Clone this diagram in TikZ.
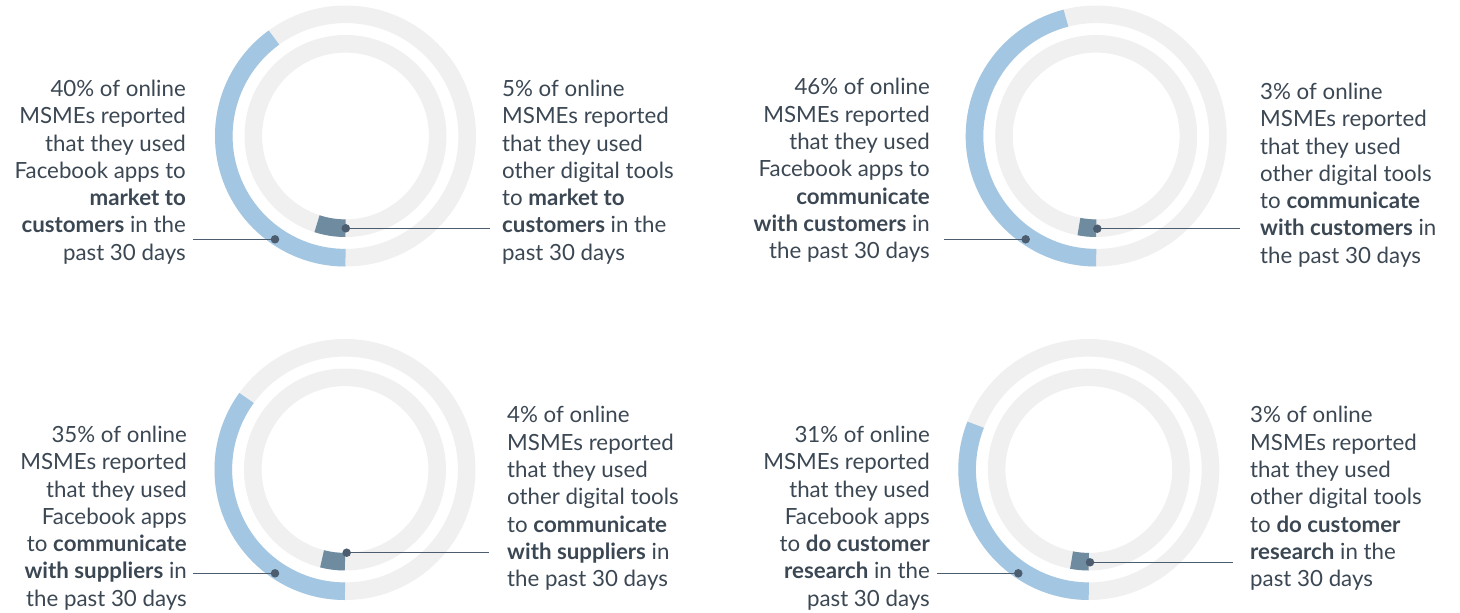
\documentclass[tikz,border=0pt]{standalone}
\usepackage{fontspec}
\setmainfont{Lato}
\definecolor{ringgray}{HTML}{F0F0F0}
\definecolor{fbblue}{HTML}{A3C7E2}
\definecolor{otherdark}{HTML}{6F8BA0}
\definecolor{leader}{HTML}{4B5D6E}
\definecolor{txt}{HTML}{3B4753}
\tikzset{
  ringbg/.style={draw=ringgray, line width=17.6pt},
  fbarc/.style={draw=fbblue, line width=17.6pt},
  otarc/.style={draw=otherdark, line width=17.6pt},
  dotnode/.style={circle, fill=leader, inner sep=0pt, minimum size=8.5pt},
  leaderline/.style={draw=leader, line width=1.4pt},
  lbl/.style={inner sep=0pt, text=txt, font=\fontsize{22.3}{27.3}\selectfont},
  lbll/.style={lbl, align=right, anchor=east},
  lblr/.style={lbl, align=left, anchor=west},
}
\newcommand\mydonut[5]{%
  \coordinate (#1) at (#2,#3);
  \draw[ringbg] (#1) circle[radius=121.7];
  \draw[ringbg] (#1) circle[radius=92.2];
  \draw[fbarc] ([shift={(90:121.7)}]#1) arc[start angle=90, end angle={90+3.6*#4}, radius=121.7];
  \draw[otarc] ([shift={(90:92.2)}]#1) arc[start angle=90, end angle={90+3.6*#5}, radius=92.2];
}
\begin{document}
\begin{tikzpicture}[x=1pt,y=-1pt]
\useasboundingbox (0,0) rectangle (1460,613);

% chart 1
\mydonut{c1}{345.5}{136}{40}{5}
\node[lbll] (t1l) at (186,172) {40\% of online\\MSMEs reported\\that they used\\Facebook apps to\\\textbf{market to}\\\textbf{customers} in the\\past 30 days};
\node[lblr] (t1r) at (502,172) {5\% of online\\MSMEs reported\\that they used\\other digital tools\\to \textbf{market to}\\\textbf{customers} in the\\past 30 days};
\coordinate (e1f) at (193,239.3);
\coordinate (e1o) at (490,228.3);
\draw[leaderline] (e1f) -- (275,239.3) node[dotnode] (d1f) {};
\draw[leaderline] (e1o) -- (345.8,228.3) node[dotnode] (d1o) {};

% chart 2
\mydonut{c2}{1096.2}{136}{46}{3}
\node[lbll] (t2l) at (930,170.5) {46\% of online\\MSMEs reported\\that they used\\Facebook apps to\\\textbf{communicate}\\\textbf{with customers} in\\the past 30 days};
\node[lblr] (t2r) at (1260,175) {3\% of online\\MSMEs reported\\that they used\\other digital tools\\to \textbf{communicate}\\\textbf{with customers} in\\the past 30 days};
\coordinate (e2f) at (944,239.3);
\coordinate (e2o) at (1240,228.7);
\draw[leaderline] (e2f) -- (1025.7,239.3) node[dotnode] (d2f) {};
\draw[leaderline] (e2o) -- (1097.3,228.7) node[dotnode] (d2o) {};

% chart 3
\mydonut{c3}{345}{469.5}{35}{4}
\node[lbll] (t3l) at (187,518) {35\% of online\\MSMEs reported\\that they used\\Facebook apps\\to \textbf{communicate}\\\textbf{with suppliers} in\\the past 30 days};
\node[lblr] (t3r) at (507,498.5) {4\% of online\\MSMEs reported\\that they used\\other digital tools\\to \textbf{communicate}\\\textbf{with suppliers} in\\the past 30 days};
\coordinate (e3f) at (193,573.3);
\coordinate (e3o) at (489,552.7);
\draw[leaderline] (e3f) -- (275,573.3) node[dotnode] (d3f) {};
\draw[leaderline] (e3o) -- (346.7,552.7) node[dotnode] (d3o) {};

% chart 4
\mydonut{c4}{1088.8}{469.5}{31}{3}
\node[lbll] (t4l) at (930,518) {31\% of online\\MSMEs reported\\that they used\\Facebook apps\\to \textbf{do customer}\\\textbf{research} in the\\past 30 days};
\node[lblr] (t4r) at (1250,498.5) {3\% of online\\MSMEs reported\\that they used\\other digital tools\\to \textbf{do customer}\\\textbf{research} in the\\past 30 days};
\coordinate (e4f) at (937,573.3);
\coordinate (e4o) at (1233,562.3);
\draw[leaderline] (e4f) -- (1018.3,573.3) node[dotnode] (d4f) {};
\draw[leaderline] (e4o) -- (1090,562.3) node[dotnode] (d4o) {};
\end{tikzpicture}
\end{document}
